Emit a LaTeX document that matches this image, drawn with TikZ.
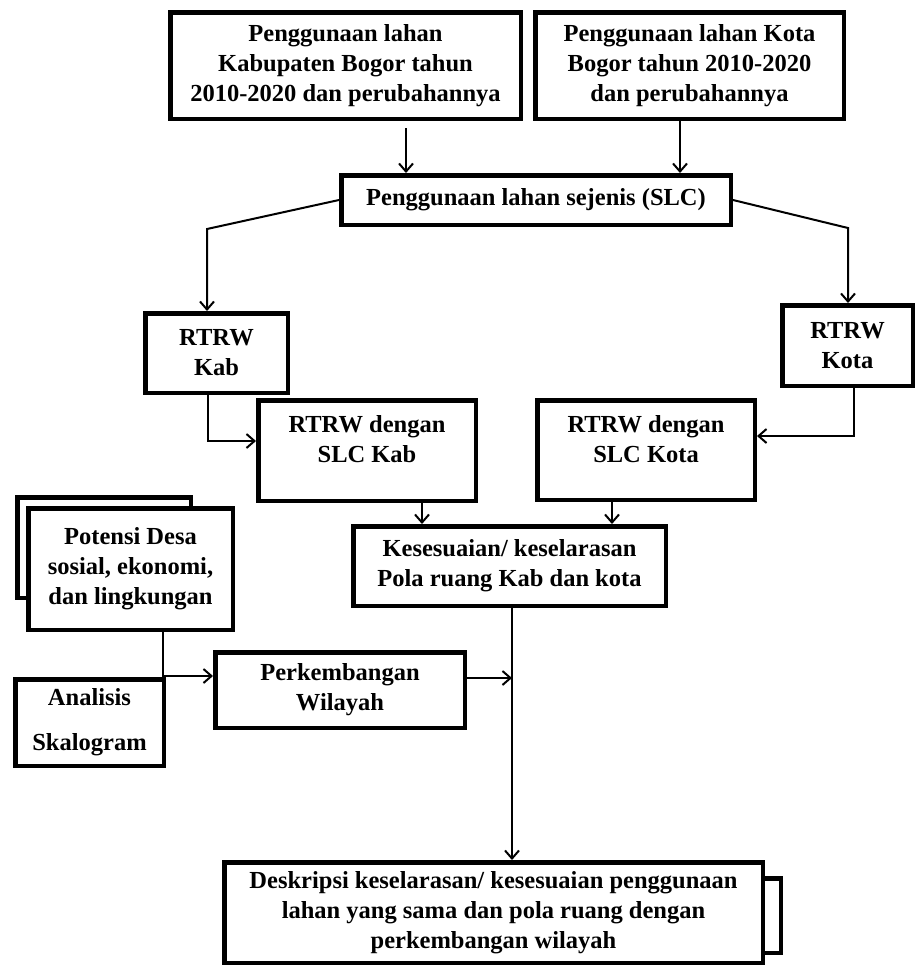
\documentclass[tikz,border=0pt]{standalone}
\usepackage{fontspec}
\setmainfont{Liberation Serif}
\usetikzlibrary{arrows.meta}

\begin{document}
\begin{tikzpicture}[x=1pt,y=-1pt,
  box/.style={draw,line width=4.5pt,fill=white,align=center,inner sep=0pt,
    font=\fontsize{24.5}{30}\selectfont\bfseries},
  txt/.style={align=center,inner sep=0pt,font=\fontsize{24.5}{30}\selectfont\bfseries},
  link/.style={line width=2pt,-{Straight Barb[length=8pt,width=14pt]}}]
\useasboundingbox (0,0) rectangle (917,967);
% top inputs
\node[box,minimum width=350.5pt,minimum height=106.5pt] (kabuse) at (345.5,65.5)
  {Penggunaan lahan\\Kabupaten Bogor tahun\\2010-2020 dan perubahannya};
\node[box,minimum width=308.5pt,minimum height=106.5pt] (kotause) at (689.5,65.5)
  {Penggunaan lahan Kota\\Bogor tahun 2010-2020\\dan perubahannya};
\node[box,minimum width=389.5pt,minimum height=49.5pt] (slc) at (536,200)
  {Penggunaan lahan sejenis (SLC)};
% RTRW
\node[box,minimum width=142.5pt,minimum height=79.5pt] (rtrwkab) at (216.5,353) {RTRW\\Kab};
\node[box,minimum width=130.5pt,minimum height=80.5pt] (rtrwkota) at (847.5,345.5) {RTRW\\Kota};
\node[box,minimum width=217.5pt,minimum height=100.5pt] (slckab) at (367,450.5) {};
\node[txt] (slckabtext) at ([yshift=11.5pt]slckab.center) {RTRW dengan\\SLC Kab};
\node[box,minimum width=217.5pt,minimum height=99.5pt] (slckota) at (646,450) {};
\node[txt] (slckotatext) at ([yshift=11pt]slckota.center) {RTRW dengan\\SLC Kota};
\node[box,minimum width=312.5pt,minimum height=79.5pt] (kesesuaian) at (509.5,566)
  {Kesesuaian/ keselarasan\\Pola ruang Kab dan kota};
% left side
\node[box,minimum width=173.5pt,minimum height=100.5pt] (potensiback) at (104,547.5) {};
\node[box,minimum width=204.5pt,minimum height=121.5pt] (potensi) at (130.5,569)
  {Potensi Desa\\sosial, ekonomi,\\dan lingkungan};
\node[box,minimum width=148.5pt,minimum height=86.5pt] (analisis) at (89.5,722.5)
  {Analisis\\[15pt]Skalogram};
\node[box,minimum width=249.5pt,minimum height=75.5pt] (perkembangan) at (340,690)
  {Perkembangan\\Wilayah};
% result
\node[box,minimum width=33.5pt,minimum height=74.5pt] (deskripsiback) at (764,915.5) {};
\node[box,minimum width=538.5pt,minimum height=100.5pt] (deskripsi) at (493.5,912.5)
  {Deskripsi keselarasan/ kesesuaian penggunaan\\lahan yang sama dan pola ruang dengan\\perkembangan wilayah};
% connectors
\coordinate (a1) at (406,128);
\coordinate (a2) at (680,121);
\coordinate (lbend) at (207,229);
\coordinate (rbend) at (848,228);
\coordinate (kabjoin) at (208,441);
\coordinate (kotajoin) at (854,436);
\coordinate (kesl) at (422,503);
\coordinate (kesr) at (612,502);
\coordinate (pjoin) at (163,676);
\coordinate (pmerge) at (512,678);
\draw[link] (a1) -- (a1 |- slc.north);
\draw[link] (a2 |- kotause.south) -- (a2 |- slc.north);
\draw[link] (slc.west) -- (lbend) -- (lbend |- rtrwkab.north);
\draw[link] (slc.east) -- (rbend) -- (rbend |- rtrwkota.north);
\draw[link] (kabjoin |- rtrwkab.south) -- (kabjoin) -- (kabjoin -| slckab.west);
\draw[link] (kotajoin |- rtrwkota.south) -- (kotajoin) -- (kotajoin -| slckota.east);
\draw[link] (kesl |- slckab.south) -- (kesl |- kesesuaian.north);
\draw[link] (kesr |- slckota.south) -- (kesr |- kesesuaian.north);
\draw[link] (pjoin |- potensi.south) -- (pjoin) -- (pjoin -| perkembangan.west);
\draw[link] (pmerge -| perkembangan.east) -- (pmerge);
\draw[link] (pmerge |- kesesuaian.south) -- (pmerge |- deskripsi.north);
\end{tikzpicture}
\end{document}
